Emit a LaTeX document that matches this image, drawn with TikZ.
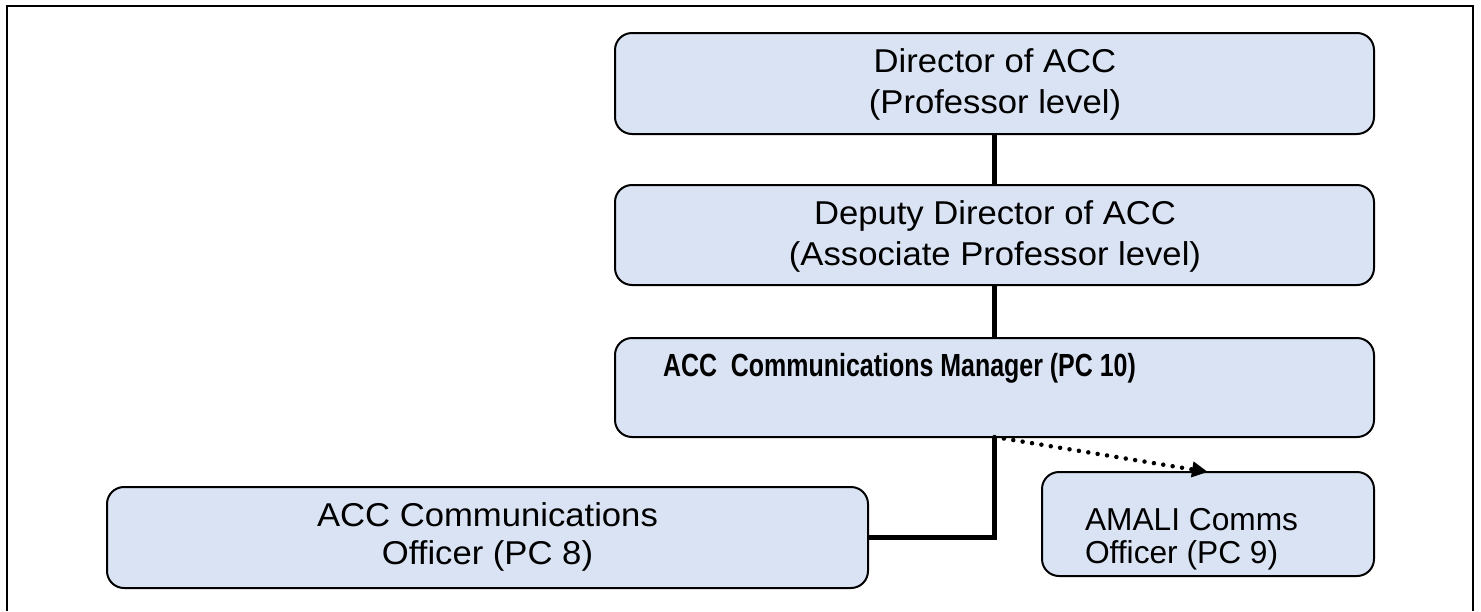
\documentclass[tikz,border=0pt]{standalone}
\usepackage{fontspec}
\setmainfont{Liberation Sans}
\newfontfamily\regfont[FakeStretch=1.05]{Liberation Sans}
\newfontfamily\mgrfont[FakeStretch=0.78]{Liberation Sans}
\newfontfamily\amalifont{Liberation Sans}
\usetikzlibrary{arrows.meta}
\definecolor{boxfill}{RGB}{218,227,243}
\begin{document}
\begin{tikzpicture}[x=1pt,y=-1pt,
  box/.style={draw=black, line width=2pt, fill=boxfill, rounded corners=17pt, inner sep=0pt, outer sep=0pt},
  lbl/.style={inner sep=0pt, outer sep=0pt, text=black},
  conn/.style={line width=4.5pt},
  conntwo/.style={line width=5.5pt},
  dotarrow/.style={line width=4.5pt, line cap=round, dash pattern=on 0pt off 9.5pt,
    -{Triangle[length=16pt,width=15pt]}},
]
\useasboundingbox (0,0) rectangle (1481,611);
% outer frame
\draw[line width=2.3pt] (6.8,611) -- (6.8,6) -- (1472.8,6) -- (1472.8,611);

% boxes
\node[box, minimum width=759pt, minimum height=101pt] (dir) at (994.5,83.5) {};
\node[box, minimum width=759pt, minimum height=100pt] (dep) at (994.5,235) {};
\node[box, minimum width=759pt, minimum height=99pt] (mgr) at (994.5,387.5) {};
\node[box, minimum width=761pt, minimum height=101pt] (off) at (487.5,537.5) {};
\node[box, minimum width=332pt, minimum height=104pt] (amali) at (1208,524) {};

% texts
\node[lbl, anchor=center, align=center, font=\regfont\fontsize{33}{41}\selectfont] (dirt) at (995,84) {Director of ACC\\(Professor level)};
\node[lbl, anchor=center, align=center, font=\regfont\fontsize{33}{41}\selectfont] (dept) at (995,236) {Deputy Director of ACC\\(Associate Professor level)};
\node[lbl, anchor=base west, font=\mgrfont\bfseries\fontsize{32}{36}\selectfont] (mgrt) at (663,376) {ACC\ \ Communications Manager (PC 10)};
\node[lbl, anchor=center, align=center, font=\regfont\fontsize{33}{38}\selectfont] (offt) at (487.5,537) {ACC Communications\\Officer (PC 8)};
\node[lbl, anchor=north west, align=left, font=\amalifont\fontsize{31.7}{33}\selectfont] (amalit) at (1085,508) {AMALI Comms\\Officer (PC 9)};

% connectors
\draw[conn] (dir.south) -- (dep.north);
\draw[conn] (dep.south) -- (mgr.north);
\draw[conntwo] (mgr.south) |- (off.east);
\draw[dotarrow] (mgr.south) -- (amali.north);
\end{tikzpicture}
\end{document}
